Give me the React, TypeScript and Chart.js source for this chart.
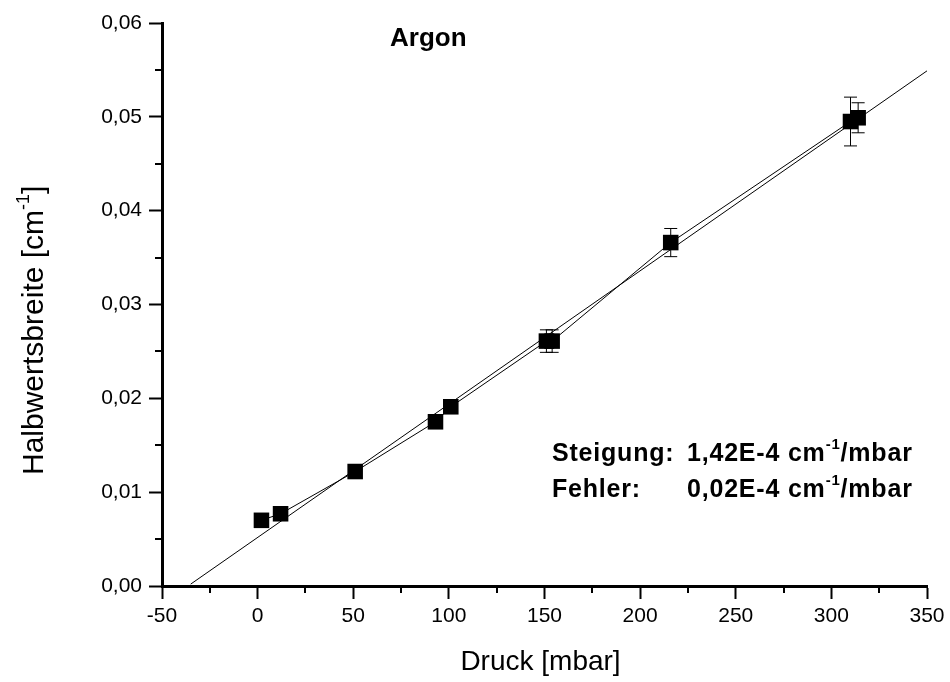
import React, { useEffect, useRef } from "react";
import { Chart, registerables } from "chart.js";

Chart.register(...registerables);

// ---- data ----
const pressure = [2, 12, 51, 93, 101, 151, 154, 216, 310, 314];
const halfWidth = [0.007, 0.0077, 0.0122, 0.0175, 0.0191, 0.0261, 0.0261, 0.0366, 0.0495, 0.0499];
const halfWidthErr = [0.0004, 0.0004, 0.0005, 0.0005, 0.0005, 0.0012, 0.0012, 0.0015, 0.0026, 0.0016];
const fitX = [-35, 350];
const fitY = [0.0002, 0.0549];
const xTicks = [-50, 0, 50, 100, 150, 200, 250, 300, 350];
const xMinorTicks = [-25, 25, 75, 125, 175, 225, 275, 325];
const yTicks = [0, 0.01, 0.02, 0.03, 0.04, 0.05, 0.06];
const yMinorTicks = [0.005, 0.015, 0.025, 0.035, 0.045, 0.055];

const FONT = '"Liberation Sans", Arial, Helvetica, sans-serif';

type Part = { t: string; sup?: boolean };

function drawRich(ctx: any, x: number, y: number, parts: Part[], size: number, bold: boolean, spacing = 0) {
  let cx = x;
  if ("letterSpacing" in ctx) ctx.letterSpacing = `${spacing}px`;
  for (const p of parts) {
    const s = p.sup ? Math.round(size * 0.6) : size;
    ctx.font = `${bold ? "bold " : ""}${s}px ${FONT}`;
    ctx.fillText(p.t, cx, p.sup ? y - size * 0.48 : y);
    cx += ctx.measureText(p.t).width;
  }
  if ("letterSpacing" in ctx) ctx.letterSpacing = "0px";
  return cx;
}

const decorPlugin = {
  id: "decor",
  beforeDatasetsDraw(chart: any) {
    const { ctx, scales } = chart;
    const xs = scales.x;
    const ys = scales.y;
    ctx.save();
    ctx.strokeStyle = "#000";
    ctx.lineWidth = 1;
    for (let i = 0; i < pressure.length; i++) {
      const px = xs.getPixelForValue(pressure[i]);
      const top = ys.getPixelForValue(halfWidth[i] + halfWidthErr[i]);
      const bot = ys.getPixelForValue(halfWidth[i] - halfWidthErr[i]);
      ctx.beginPath();
      ctx.moveTo(px, top);
      ctx.lineTo(px, bot);
      ctx.moveTo(px - 6.5, top);
      ctx.lineTo(px + 6.5, top);
      ctx.moveTo(px - 6.5, bot);
      ctx.lineTo(px + 6.5, bot);
      ctx.stroke();
    }
    ctx.restore();
  },
  afterDraw(chart: any) {
    const { ctx, scales, chartArea } = chart;
    const xs = scales.x;
    const ys = scales.y;
    ctx.save();
    // minor ticks
    ctx.strokeStyle = "#000";
    ctx.lineWidth = 2;
    ctx.beginPath();
    for (const v of xMinorTicks) {
      const px = Math.round(xs.getPixelForValue(v));
      ctx.moveTo(px, chartArea.bottom);
      ctx.lineTo(px, chartArea.bottom + 7);
    }
    for (const v of yMinorTicks) {
      const py = Math.round(ys.getPixelForValue(v));
      ctx.moveTo(chartArea.left, py);
      ctx.lineTo(chartArea.left - 7, py);
    }
    ctx.stroke();

    ctx.fillStyle = "#000";
    ctx.textBaseline = "alphabetic";
    ctx.textAlign = "left";

    // title inside plot
    ctx.font = `bold 26px ${FONT}`;
    ctx.fillText("Argon", chartArea.left + 228, chartArea.top + 23);

    // annotation
    const ax = chartArea.left + 390;
    const ay1 = chartArea.top + 438;
    const ay2 = chartArea.top + 474;
    drawRich(ctx, ax, ay1, [{ t: "Steigung:" }], 25, true, 0.8);
    drawRich(ctx, ax + 135, ay1, [{ t: "1,42E-4 cm" }, { t: "-1", sup: true }, { t: "/mbar" }], 25, true, 0.8);
    drawRich(ctx, ax, ay2, [{ t: "Fehler:" }], 25, true, 0.8);
    drawRich(ctx, ax + 135, ay2, [{ t: "0,02E-4 cm" }, { t: "-1", sup: true }, { t: "/mbar" }], 25, true, 0.8);

    // x axis title
    ctx.font = `28px ${FONT}`;
    const xt = "Druck [mbar]";
    const xw = ctx.measureText(xt).width;
    ctx.fillText(xt, (chartArea.left + chartArea.right) / 2 - 4 - xw / 2, chartArea.bottom + 84);

    // y axis title (rotated)
    ctx.translate(43, chartArea.top + 452);
    ctx.rotate(-Math.PI / 2);
    drawRich(ctx, 0, 0, [{ t: "Halbwertsbreite [cm" }, { t: "-1", sup: true }, { t: "]" }], 30, false);
    ctx.restore();
  },
};

export default function App() {
  const ref = useRef<HTMLCanvasElement | null>(null);

  useEffect(() => {
    if (!ref.current) return;
    const chart = new Chart(ref.current, {
      type: "scatter",
      data: {
        datasets: [
          {
            label: "Fit",
            data: fitX.map((x, i) => ({ x, y: fitY[i] })),
            showLine: true,
            borderColor: "#000",
            borderWidth: 1,
            pointRadius: 0,
            fill: false,
          },
          {
            label: "Argon",
            data: pressure.map((x, i) => ({ x, y: halfWidth[i] })),
            showLine: true,
            borderColor: "#000",
            borderWidth: 1,
            backgroundColor: "#000",
            pointStyle: "rect",
            pointRadius: 11,
            pointBorderWidth: 0,
            fill: false,
          },
        ],
      },
      options: {
        responsive: false,
        animation: false,
        events: [],
        layout: { padding: { top: 23, right: 23, left: 0, bottom: 0 } },
        plugins: {
          legend: { display: false },
          tooltip: { enabled: false },
          title: { display: false },
        },
        scales: {
          x: {
            type: "linear",
            min: -50,
            max: 350,
            afterBuildTicks: (s: any) => {
              s.ticks = xTicks.map((v) => ({ value: v }));
            },
            afterFit: (s: any) => {
              s.height = 96;
            },
            grid: {
              display: true,
              drawOnChartArea: false,
              drawTicks: true,
              tickLength: 13,
              tickWidth: 2,
              tickColor: "#000",
            },
            border: { display: true, color: "#000", width: 3 },
            ticks: {
              color: "#000",
              padding: 5,
              font: { family: FONT, size: 21 },
              maxRotation: 0,
              callback: (v: any) => String(v),
            },
          },
          y: {
            type: "linear",
            min: 0,
            max: 0.06,
            afterBuildTicks: (s: any) => {
              s.ticks = yTicks.map((v) => ({ value: v }));
            },
            afterFit: (s: any) => {
              s.width = 162;
            },
            grid: {
              display: true,
              drawOnChartArea: false,
              drawTicks: true,
              tickLength: 13,
              tickWidth: 2,
              tickColor: "#000",
            },
            border: { display: true, color: "#000", width: 3 },
            ticks: {
              color: "#000",
              padding: 7,
              font: { family: FONT, size: 21 },
              callback: (v: any) => Number(v).toFixed(2).replace(".", ","),
            },
          },
        },
      },
      plugins: [decorPlugin],
    } as any);
    return () => chart.destroy();
  }, []);

  return (
    <div style={{ position: "absolute", left: 0, top: 0, width: 950, height: 682, background: "#fff" }}>
      <canvas ref={ref} width={950} height={682} style={{ display: "block", width: 950, height: 682 }} />
    </div>
  );
}
